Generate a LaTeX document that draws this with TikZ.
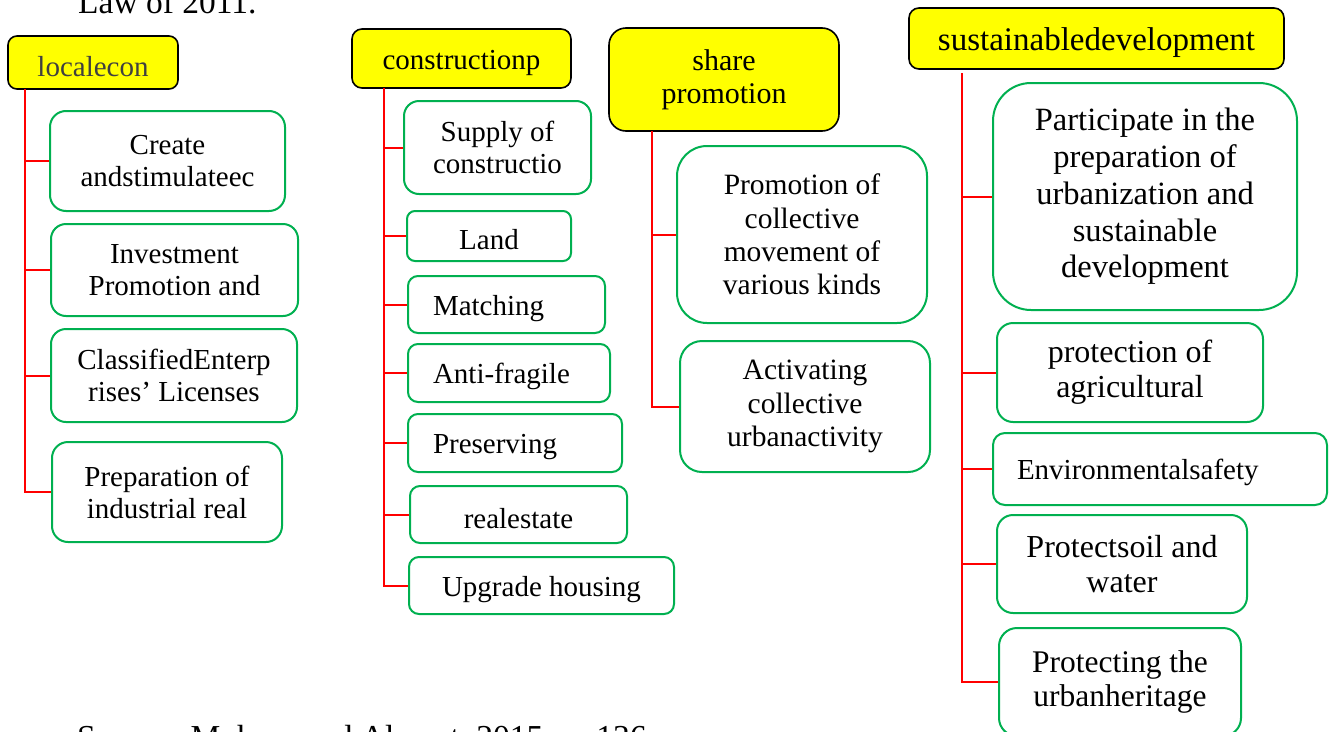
\documentclass[tikz,border=0pt]{standalone}
\usepackage{fontspec}
\setmainfont{Liberation Serif}
\usetikzlibrary{positioning}
\definecolor{hdryellow}{RGB}{255,255,0}
\definecolor{leafgreen}{RGB}{0,176,80}
\definecolor{branchred}{RGB}{255,0,0}
\newcommand{\txtsize}[2]{\fontsize{#1}{#2}\selectfont}

\begin{document}
\begin{tikzpicture}[x=1pt,y=-1pt,font=\txtsize{29}{32},
    hdr/.style={draw=black, line width=1.6pt, fill=hdryellow, inner sep=0pt, align=center,
        execute at begin node={\rule{0pt}{0.95em}}},
    leaf/.style={draw=leafgreen, line width=2pt, fill=white, inner sep=0pt, align=center,
        execute at begin node={\rule{0pt}{0.95em}}},
    leafl/.style={leaf, align=left, inner xsep=25pt},
    branch/.style={draw=branchred, line width=2pt}]
    \useasboundingbox[fill=white] (0,0) rectangle (1332,731);

    % text of the page around the figure
    \node[anchor=base west, font=\txtsize{33.5}{40}, inner sep=0pt] (law) at (78,13) {Law of 2011.};
    \node[anchor=base west, font=\txtsize{33.5}{40}, inner sep=0pt] (src) at (77,748) {Source: Mohammed Alowat, 2015, p. 136};

    % local economy
    \node[hdr, rounded corners=9pt, minimum width=170pt, minimum height=53pt, text=black!75] (loc) at (93,62.5) {localecon};
    \node[leaf, rounded corners=16pt, minimum width=235pt, minimum height=100pt] (lc1) at (167.5,161) {Create\\andstimulateec};
    \node[leaf, rounded corners=15pt, minimum width=247pt, minimum height=92pt] (lc2) at (174.5,270) {Investment\\Promotion and};
    \node[leaf, rounded corners=15pt, minimum width=246pt, minimum height=93pt] (lc3) at (174,375.5) {ClassifiedEnterp\\rises' Licenses};
    \node[leaf, rounded corners=16pt, minimum width=230pt, minimum height=100pt] (lc4) at (167,492) {Preparation of\\industrial real};
    \coordinate (locTop) at (25,89);
    \draw[branch] (locTop) |- (lc4.west);
    \draw[branch] (locTop |- lc1.west) -- (lc1.west) (locTop |- lc2.west) -- (lc2.west)
        (locTop |- lc3.west) -- (lc3.west);

    % construction
    \node[hdr, rounded corners=10pt, minimum width=219pt, minimum height=59pt] (con) at (461.5,58.5) {constructionp};
    \node[leaf, rounded corners=15pt, minimum width=187pt, minimum height=93pt] (cp1) at (497.5,147.5) {Supply of\\constructio};
    \node[leaf, rounded corners=8pt, minimum width=164pt, minimum height=50pt] (cp2) at (489,236) {Land};
    \node[leafl, rounded corners=10pt, text width=147pt, minimum height=57pt] (cp3) at (506.5,304.5) {Matching};
    \node[leafl, rounded corners=10pt, text width=152pt, minimum height=58pt] (cp4) at (509,373) {Anti-fragile};
    \node[leafl, rounded corners=10pt, text width=164pt, minimum height=58pt] (cp5) at (515,443) {Preserving};
    \node[leaf, rounded corners=10pt, minimum width=217pt, minimum height=57pt] (cp6) at (518.5,514.5) {realestate};
    \node[leaf, rounded corners=10pt, minimum width=265pt, minimum height=57pt] (cp7) at (541.5,585.5) {Upgrade housing};
    \coordinate (conTop) at (384,88);
    \draw[branch] (conTop) |- (cp7.west);
    \draw[branch] (conTop |- cp1.west) -- (cp1.west) (conTop |- cp2.west) -- (cp2.west)
        (conTop |- cp3.west) -- (cp3.west) (conTop |- cp4.west) -- (cp4.west)
        (conTop |- cp5.west) -- (cp5.west) (conTop |- cp6.west) -- (cp6.west);

    % share promotion
    \node[hdr, rounded corners=17pt, minimum width=230pt, minimum height=103pt, font=\txtsize{30}{33}] (shp) at (724,79.5) {share\\promotion};
    \node[leaf, rounded corners=30pt, minimum width=250pt, minimum height=177pt, font=\txtsize{29.5}{33.3}] (sp1) at (802,234.5) {Promotion of\\collective\\movement of\\various kinds};
    \node[leaf, rounded corners=22pt, minimum width=250pt, minimum height=131pt, font=\txtsize{29.5}{33.3}] (sp2) at (805,406.5) {Activating\\collective\\urbanactivity};
    \coordinate (shpTop) at (652,131);
    \draw[branch] (shpTop) |- (sp2.west);
    \draw[branch] (shpTop |- sp1.west) -- (sp1.west);

    % sustainable development
    \node[hdr, rounded corners=10pt, minimum width=375pt, minimum height=61pt, font=\txtsize{33}{36}] (sus) at (1096.5,38.5) {sustainabledevelopment};
    \node[leaf, rounded corners=38pt, minimum width=304pt, minimum height=227pt, font=\txtsize{32.5}{36.7}] (sd1) at (1145,196.5) {Participate in the\\preparation of\\urbanization and\\sustainable\\development};
    \node[leaf, rounded corners=16pt, minimum width=266pt, minimum height=99pt, font=\txtsize{32}{35}] (sd2) at (1130,372.5) {protection of\\agricultural};
    \node[leafl, rounded corners=12pt, inner xsep=24pt, text width=286pt, minimum height=72pt] (sd3) at (1160,469) {Environmentalsafety};
    \node[leaf, rounded corners=16pt, minimum width=250pt, minimum height=98pt, font=\txtsize{32}{35}] (sd4) at (1122,564) {Protectsoil and\\water};
    \node[leaf, rounded corners=18pt, minimum width=242pt, minimum height=108pt, font=\txtsize{31.5}{34.5}] (sd5) at (1120,682) {Protecting the\\urbanheritage};
    \coordinate (susTop) at (962,73);
    \draw[branch] (susTop) |- (sd5.west);
    \draw[branch] (susTop |- sd1.west) -- (sd1.west) (susTop |- sd2.west) -- (sd2.west)
        (susTop |- sd3.west) -- (sd3.west) (susTop |- sd4.west) -- (sd4.west);
\end{tikzpicture}
\end{document}
